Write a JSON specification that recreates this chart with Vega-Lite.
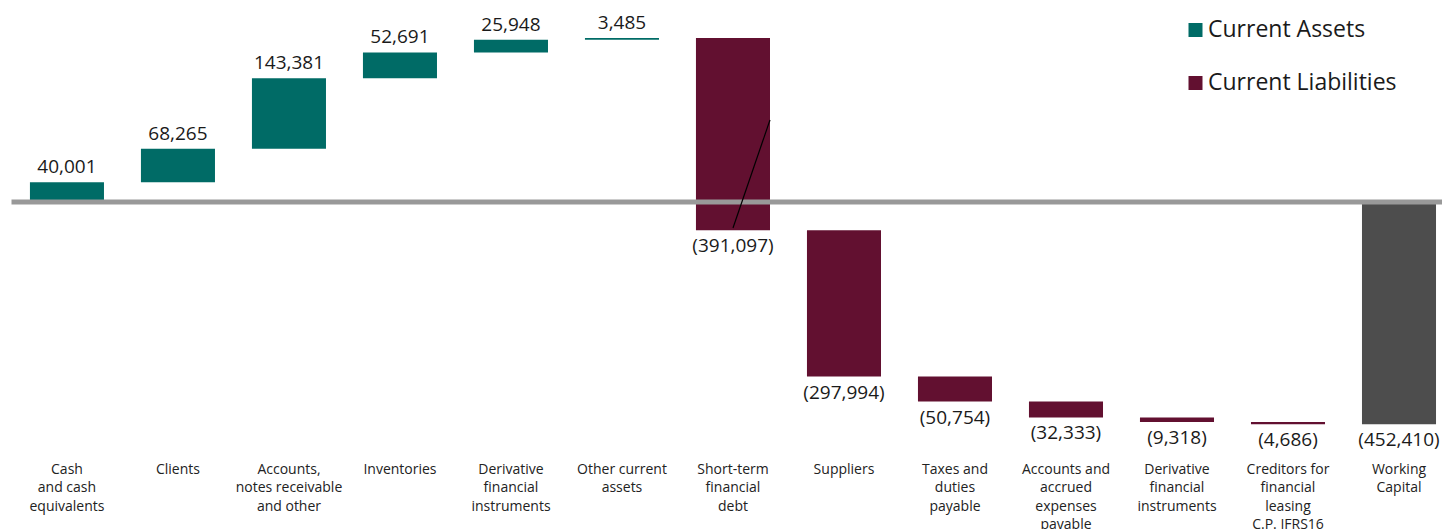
{
  "$schema": "https://vega.github.io/schema/vega-lite/v6.json",
  "width": 1430.5,
  "height": 458,
  "autosize": {"type": "none"},
  "padding": {"left": 11.5, "top": 0, "right": 0, "bottom": 71},
  "background": "white",
  "config": {"view": {"stroke": null}, "font": "Open Sans"},
  "datasets": {
    "bars": [
      {"cat": "Cash\nand cash\nequivalents", "type": "Current Assets", "start": 0, "end": 40001, "amount": 40001},
      {"cat": "Clients", "type": "Current Assets", "start": 40001, "end": 108266, "amount": 68265},
      {"cat": "Accounts,\nnotes receivable\nand other", "type": "Current Assets", "start": 108266, "end": 251647, "amount": 143381},
      {"cat": "Inventories", "type": "Current Assets", "start": 251647, "end": 304338, "amount": 52691},
      {"cat": "Derivative\nfinancial\ninstruments", "type": "Current Assets", "start": 304338, "end": 330286, "amount": 25948},
      {"cat": "Other current\nassets", "type": "Current Assets", "start": 330286, "end": 333771, "amount": 3485},
      {"cat": "Short-term\nfinancial\ndebt", "type": "Current Liabilities", "start": 333771, "end": -57326, "amount": -391097},
      {"cat": "Suppliers", "type": "Current Liabilities", "start": -57326, "end": -355320, "amount": -297994},
      {"cat": "Taxes and\nduties\npayable", "type": "Current Liabilities", "start": -355320, "end": -406074, "amount": -50754},
      {"cat": "Accounts and\naccrued\nexpenses\npayable", "type": "Current Liabilities", "start": -406074, "end": -438407, "amount": -32333},
      {"cat": "Derivative\nfinancial\ninstruments ", "type": "Current Liabilities", "start": -438407, "end": -447725, "amount": -9318},
      {"cat": "Creditors for\nfinancial\nleasing\nC.P. IFRS16", "type": "Current Liabilities", "start": -447725, "end": -452410, "amount": -4686},
      {"cat": "Working\nCapital", "type": "Working Capital", "start": 0, "end": -452410, "amount": -452410}
    ],
    "leader": [
      {"cat": "Short-term\nfinancial\ndebt", "y1": -53000, "y2": 167000}
    ]
  },
  "data": {"name": "bars"},
  "layer": [
    {
      "mark": {"type": "bar"},
      "encoding": {
        "x": {
          "field": "cat", "type": "nominal", "sort": null,
          "scale": {"paddingInner": 0.333, "paddingOuter": 0.11, "align": 0.755},
          "axis": {
            "title": null, "orient": "bottom", "domain": false, "ticks": false,
            "labelAngle": 0, "labelFont": "Open Sans", "labelFontSize": 14,
            "labelColor": "#222222", "labelLineHeight": 18.5, "labelPadding": 4,
            "labelLimit": 0, "labelOverlap": false,
            "labelExpr": "split(datum.label, '\\n')"
          }
        },
        "y": {
          "field": "start", "type": "quantitative",
          "scale": {"domain": [-521066, 411153], "nice": false, "zero": false},
          "axis": null
        },
        "y2": {"field": "end"},
        "color": {
          "field": "type", "type": "nominal",
          "scale": {
            "domain": ["Current Assets", "Current Liabilities", "Working Capital"],
            "range": ["#006B66", "#621030", "#4D4D4D"]
          },
          "legend": {
            "values": ["Current Assets", "Current Liabilities"],
            "title": null, "orient": "none", "legendX": 1172.5, "legendY": 18.5,
            "padding": 0, "symbolType": "square", "symbolSize": 196,
            "symbolStrokeWidth": 0, "symbolOpacity": 1,
            "labelFont": "Open Sans", "labelFontSize": 23, "labelColor": "#1a1a1a",
            "labelOffset": 1, "labelLimit": 0, "rowPadding": 29
          }
        }
      }
    },
    {
      "transform": [{"filter": {"field": "type", "equal": "Current Assets"}}],
      "mark": {"type": "text", "baseline": "alphabetic", "dy": -9, "fontSize": 19, "font": "Open Sans", "color": "#1a1a1a"},
      "encoding": {
        "x": {"field": "cat", "type": "nominal", "sort": null},
        "y": {"field": "end", "type": "quantitative"},
        "text": {"field": "amount", "type": "quantitative", "format": "(,.0f"}
      }
    },
    {
      "transform": [{"filter": {"field": "type", "oneOf": ["Current Liabilities", "Working Capital"]}}],
      "mark": {"type": "text", "baseline": "alphabetic", "dy": 22, "fontSize": 19, "font": "Open Sans", "color": "#1a1a1a"},
      "encoding": {
        "x": {"field": "cat", "type": "nominal", "sort": null},
        "y": {"field": "end", "type": "quantitative"},
        "text": {"field": "amount", "type": "quantitative", "format": "(,.0f"}
      }
    },
    {
      "data": {"values": [{}]},
      "mark": {"type": "rule", "color": "#999999", "strokeWidth": 5},
      "encoding": {"y": {"datum": 0, "type": "quantitative"}}
    },
    {
      "data": {"name": "leader"},
      "mark": {"type": "rule", "color": "#000000", "strokeWidth": 1.2, "x2Offset": 37},
      "encoding": {
        "x": {"field": "cat", "type": "nominal", "sort": null},
        "x2": {"field": "cat"},
        "y": {"field": "y1", "type": "quantitative"},
        "y2": {"field": "y2"}
      }
    }
  ]
}
